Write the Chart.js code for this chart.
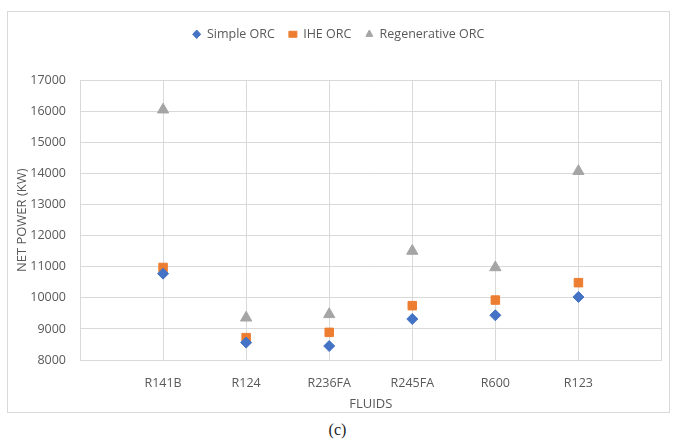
<!DOCTYPE html>
<html><head><meta charset="utf-8">
<script src="https://cdn.jsdelivr.net/npm/chart.js@4"></script>
<style>
html,body{margin:0;padding:0;background:#fff;width:675px;height:439px;overflow:hidden;}
#box{position:absolute;left:7px;top:11px;width:663px;height:402px;border:1px solid #d9d9d9;box-sizing:border-box;}
#cap{position:absolute;left:0;width:675px;top:421px;text-align:center;font-family:"Liberation Serif",serif;font-size:16px;color:#222;}
</style></head>
<body>
<div id="box"><canvas id="c"></canvas></div>
<div id="cap">(c)</div>
<script>
const fluids = ["R141B","R124","R236FA","R245FA","R600","R123"];
const simpleORC = [10780, 8560, 8450, 9320, 9440, 10030];
const iheORC = [10980, 8720, 8890, 9750, 9930, 10490];
const regenORC = [16060, 9360, 9470, 11510, 10980, 14080];
const yTicks = [8000, 9000, 10000, 11000, 12000, 13000, 14000, 15000, 16000, 17000];

const pts = arr => arr.map((v,i)=>({x:i+1,y:v}));
const font = {family:"'Open Sans', 'Noto Sans', sans-serif", size:12.5};
const lfont = {family:"'Open Sans', 'Noto Sans', sans-serif", size:12.5};
const tfont = {family:"'Open Sans', 'Noto Sans', sans-serif", size:13};
const txt = '#595959';

const legendGap = {id:'legendGap', beforeInit(chart){
  const lg = chart.legend; const orig = lg.fit;
  lg.fit = function(){ orig.call(lg); lg.height += 30; };
}};

new Chart(document.getElementById('c'), {
  type:'scatter',
  data:{datasets:[
    {label:'Simple ORC', data:pts(simpleORC), pointStyle:'rectRot', radius:5.5, backgroundColor:'#4472C4', borderColor:'#4472C4', order:1},
    {label:'IHE ORC', data:pts(iheORC), pointStyle:'rect', radius:6, backgroundColor:'#ED7D31', borderColor:'#ED7D31', order:2},
    {label:'Regenerative ORC', data:pts(regenORC), pointStyle:'triangle', radius:6.5, backgroundColor:'#A5A5A5', borderColor:'#A5A5A5', order:3}
  ]},
  options:{
    responsive:true, maintainAspectRatio:false, animation:false,
    layout:{padding:{left:0,right:0,top:2,bottom:0}},
    plugins:{
      legend:{position:'top', labels:{usePointStyle:true, pointStyleWidth:8, boxWidth:6, boxHeight:6, font:lfont, color:txt, padding:14}},
      tooltip:{enabled:false}
    },
    scales:{
      x:{type:'linear', min:0, max:7,
        afterBuildTicks: s => { s.ticks = [0,1,2,3,4,5,6,7].map(v=>({value:v})); },
        afterFit: s => { s.height = 52; s.paddingRight = 0; },
        ticks:{font:font, color:txt, autoSkip:false, maxRotation:0, padding:16, callback:v=>fluids[v-1]||''},
        grid:{color:'#d9d9d9', lineWidth:1, drawTicks:false},
        border:{color:'#d9d9d9'},
        title:{display:true, text:'FLUIDS', font:tfont, color:txt, padding:{top:0,bottom:0}}
      },
      y:{min:8000, max:17000,
        afterBuildTicks: s => { s.ticks = yTicks.map(v=>({value:v})); },
        afterFit: s => { s.width = 72; },
        ticks:{font:font, color:txt, padding:14, callback:v=>String(v)},
        grid:{color:'#d9d9d9', lineWidth:1, drawTicks:false},
        border:{color:'#d9d9d9'},
        title:{display:true, text:'NET POWER (KW)', font:tfont, color:txt, padding:{top:6,bottom:0}}
      }
    }
  },
  plugins:[legendGap]
});
</script>
</body></html>
